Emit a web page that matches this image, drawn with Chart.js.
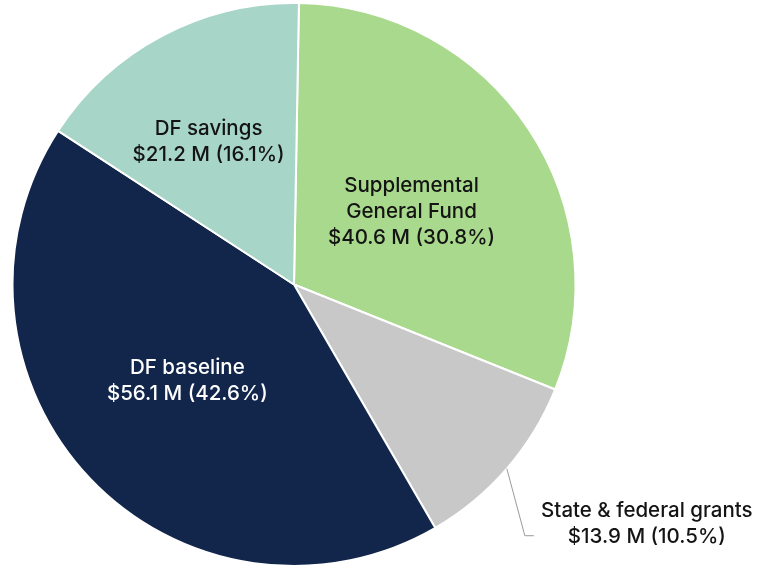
<!DOCTYPE html>
<html>
<head>
<meta charset="utf-8">
<script src="https://cdn.jsdelivr.net/npm/chart.js@4"></script>
<style>
  html, body { margin: 0; padding: 0; background: #fff; }
  #wrap { width: 759px; height: 567px; position: relative; }
</style>
</head>
<body>
<div id="wrap"><canvas id="pieChart"></canvas></div>
<script>
// funding sources, clockwise from 12 o'clock
const categories = ['Supplemental General Fund', 'State & federal grants', 'DF baseline', 'DF savings'];
const labelLines = [['Supplemental', 'General Fund'], ['State & federal grants'], ['DF baseline'], ['DF savings']];
const amounts = [40.6, 13.9, 56.1, 21.2];      // $ millions
const shares = [30.8, 10.5, 42.6, 16.1];       // percent of total

const colors = ['#a9d98c', '#c8c8c8', '#12264b', '#a7d5c8'];
const textColors = ['#141414', '#141414', '#ffffff', '#141414'];

// label placement: fraction of radius along slice mid-angle, plus angle nudge (deg)
const labelPlace = [
  { r: 0.49, da: 2 },
  { outside: true },
  { r: 0.51, da: 1.5 },
  { r: 0.59, da: -3 }
];

const FONT = '500 20.5px Inter, "Noto Sans", sans-serif';
const LINE_H = 26;

const pieLabels = {
  id: 'pieLabels',
  afterDatasetsDraw(chart) {
    const ctx = chart.ctx;
    const arcs = chart.getDatasetMeta(0).data;
    ctx.save();
    ctx.font = FONT;
    ctx.textAlign = 'center';
    ctx.textBaseline = 'middle';
    arcs.forEach((arc, i) => {
      const p = arc.getProps(['x', 'y', 'startAngle', 'endAngle', 'outerRadius'], true);
      const mid = (p.startAngle + p.endAngle) / 2;
      const lines = labelLines[i].concat(['$' + amounts[i].toFixed(1) + ' M (' + shares[i].toFixed(1) + '%)']);
      const place = labelPlace[i];
      let cx, cy;
      if (place.outside) {
        // leader line from slice edge down to label
        const sx = p.x + Math.cos(mid) * p.outerRadius;
        const sy = p.y + Math.sin(mid) * p.outerRadius;
        const ex = sx + 18, ey = sy + 67;
        ctx.strokeStyle = '#9a9a9a';
        ctx.lineWidth = 1;
        ctx.beginPath();
        ctx.moveTo(sx, sy);
        ctx.lineTo(ex, ey);
        ctx.lineTo(ex + 9, ey);
        ctx.stroke();
        cx = ex + 122;
        cy = ey - 12;
      } else {
        const a = mid + place.da * Math.PI / 180;
        cx = p.x + Math.cos(a) * p.outerRadius * place.r;
        cy = p.y + Math.sin(a) * p.outerRadius * place.r;
      }
      ctx.fillStyle = textColors[i];
      const top = cy - (lines.length - 1) * LINE_H / 2;
      lines.forEach((t, k) => ctx.fillText(t, cx, top + k * LINE_H));
    });
    ctx.restore();
  }
};

new Chart(document.getElementById('pieChart'), {
  type: 'pie',
  data: {
    labels: categories,
    datasets: [{
      data: amounts,
      backgroundColor: colors,
      borderColor: '#ffffff',
      borderWidth: 2
    }]
  },
  options: {
    responsive: true,
    maintainAspectRatio: false,
    animation: false,
    rotation: 1,
    layout: { padding: { top: 2, right: 171, left: 0, bottom: 0 } },
    plugins: {
      legend: { display: false },
      tooltip: { enabled: false }
    }
  },
  plugins: [pieLabels]
});
</script>
</body>
</html>
